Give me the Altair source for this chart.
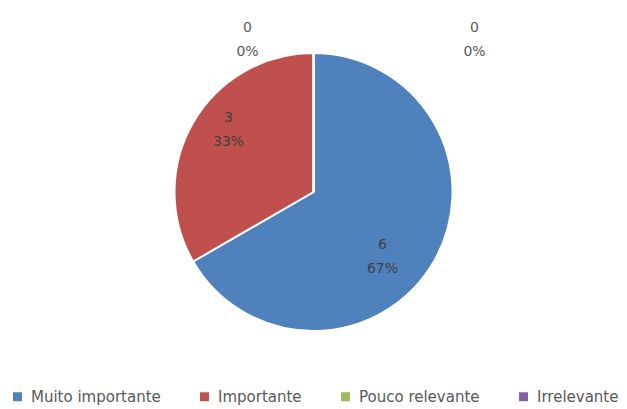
import altair as alt
import pandas as pd

categories = ["Muito importante", "Importante", "Pouco relevante", "Irrelevante"]
values = [6, 3, 0, 0]
percents = ["67%", "33%", "0%", "0%"]
colors = ["#4F81BD", "#C0504D", "#9BBB59", "#8064A2"]

df = pd.DataFrame({
    "cat": categories,
    "v": values,
    "pct": percents,
    "order": list(range(len(categories))),
})
df["label"] = [f"{v}\n{p}" for v, p in zip(values, percents)]

FONT = "DejaVu Sans"

base = alt.Chart(df).encode(
    theta=alt.Theta("v:Q", stack=True),
    order=alt.Order("order:Q"),
)

arc = base.mark_arc(outerRadius=139, stroke="white", strokeWidth=2).encode(
    color=alt.Color(
        "cat:N",
        scale=alt.Scale(domain=categories, range=colors),
        sort=categories,
        legend=alt.Legend(
            title=None,
            orient="none",
            legendX=10,
            legendY=389,
            direction="horizontal",
            symbolType="square",
            symbolSize=80,
            symbolStrokeWidth=0,
            labelFontSize=15,
            labelColor="#595959",
            labelFont=FONT,
            labelOffset=6,
            columnPadding=36,
        ),
    )
)


def label_layer(cat, radius, dx, dy, color):
    return base.transform_calculate(
        t=f"datum.cat == '{cat}' ? datum.label : ''"
    ).mark_text(
        radius=radius, dx=dx, dy=dy, lineBreak="\n", fontSize=14,
        color=color, font=FONT, lineHeight=24,
    ).encode(text="t:N")


blue_lbl = label_layer("Muito importante", 90, -9, 8, "#404040")
red_lbl = label_layer("Importante", 90, -7, -29, "#404040")
green_lbl = label_layer("Pouco relevante", 152, -66, -12, "#595959")
purple_lbl = label_layer("Irrelevante", 152, 161, -12, "#595959")

chart = alt.layer(arc, blue_lbl, red_lbl, green_lbl, purple_lbl).properties(
    width=627, height=384, padding=0, background="white"
).configure_view(stroke=None)

chart.save("out.html", embed_options={"renderer": "svg", "actions": False})
